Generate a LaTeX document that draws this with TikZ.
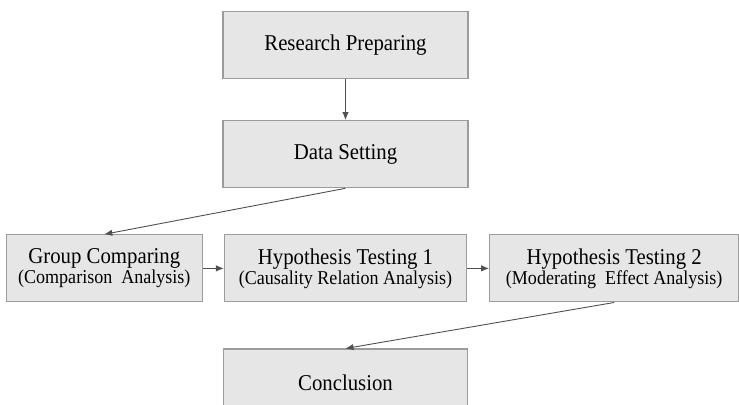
\documentclass[tikz,border=0pt]{standalone}
\usepackage{fontspec}
\setmainfont{Liberation Serif}
\newfontfamily\condfont[FakeStretch=0.92]{Liberation Serif}
\usepackage{xcolor}
\usetikzlibrary{
    positioning,
    arrows.meta
}
\definecolor{boxfill}{HTML}{E6E6E6}
\definecolor{boxline}{HTML}{9C9C9C}
\definecolor{linkline}{HTML}{505050}
\newcommand{\subline}[1]{{\fontsize{9.8}{10}\selectfont #1}}
\tikzset{
  basic/.style = {
      draw=boxline,
      line width=0.6pt,
      rectangle,
      fill=boxfill,
      align=center,
      inner sep=1pt,
      minimum height=33.5pt,
      font=\condfont\fontsize{11.3}{10}\selectfont
  },
  stage/.style = {
      basic,
      minimum width=122.5pt
  },
  twoline/.style = {
      basic
  },
  link/.style = {
      draw=linkline,
      line width=0.45pt,
      -{Latex[length=4pt,width=3.2pt]}
  }
}

\begin{document}
\begin{tikzpicture}
        \useasboundingbox (0,0) rectangle (369.5pt,202.5pt);
        \node[stage] (prep) at (172.75pt,180pt) {Research Preparing};
        \node[stage, below=20.5pt of prep] (data) {Data Setting};
        \node[twoline, minimum width=121pt, below=23pt of data] (hypone)
            {Hypothesis Testing 1\\\subline{(Causality Relation Analysis)}};
        \node[twoline, minimum width=98pt, left=10.5pt of hypone] (group)
            {Group Comparing\\\subline{(Comparison\ \ Analysis)}};
        \node[twoline, minimum width=124.5pt, right=11pt of hypone] (hyptwo)
            {Hypothesis Testing 2\\\subline{(Moderating\ \ Effect Analysis)}};
        \node[stage, minimum width=122pt, below=23pt of hypone] (concl) {Conclusion};
        % Connectors
        \path[link] (prep.south) -- (data.north);
        \path[link] (data.south) -- (group.north);
        \path[link] (group.east) -- (hypone.west);
        \path[link] (hypone.east) -- (hyptwo.west);
        \path[link] (hyptwo.south) -- (concl.north);
    \end{tikzpicture}
\end{document}
